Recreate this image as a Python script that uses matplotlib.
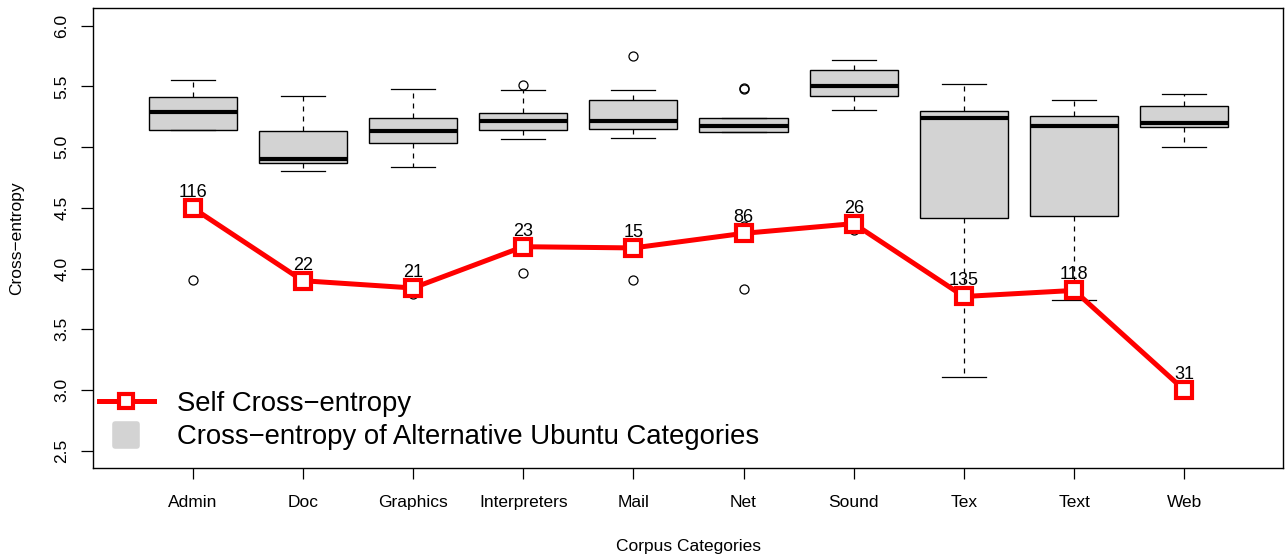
import matplotlib.pyplot as plt
from matplotlib.lines import Line2D
from matplotlib.markers import MarkerStyle

plt.rcParams['font.family'] = ['Liberation Sans', 'DejaVu Sans']

categories = ['Admin', 'Doc', 'Graphics', 'Interpreters', 'Mail',
              'Net', 'Sound', 'Tex', 'Text', 'Web']

# self cross-entropy per category and number of packages
self_ce = [4.50, 3.90, 3.84, 4.18, 4.17, 4.29, 4.37, 3.77, 3.82, 3.00]
counts = [116, 22, 21, 23, 15, 86, 26, 135, 118, 31]

# box stats of cross-entropy against the other categories
whis_lo = [5.14, 4.80, 4.835, 5.066, 5.074, 5.124, 5.303, 3.104, 3.741, 4.998]
q1 = [5.14, 4.866, 5.03, 5.143, 5.146, 5.124, 5.418, 4.415, 4.431, 5.165]
med = [5.291, 4.899, 5.129, 5.217, 5.212, 5.17, 5.503, 5.237, 5.176, 5.195]
q3 = [5.415, 5.134, 5.239, 5.283, 5.385, 5.239, 5.637, 5.299, 5.256, 5.34]
whis_hi = [5.552, 5.423, 5.478, 5.47, 5.467, 5.239, 5.715, 5.522, 5.387, 5.437]
fliers = [[4.475, 3.909], [], [3.787], [5.509, 3.961], [5.753, 3.904],
          [5.484, 5.478, 4.35, 3.835], [4.316], [], [], []]

stats = []
for i in range(len(categories)):
    stats.append(dict(med=med[i], q1=q1[i], q3=q3[i], whislo=whis_lo[i],
                      whishi=whis_hi[i], fliers=fliers[i], label=categories[i]))

fig = plt.figure(figsize=(12.86, 5.56), dpi=100)
ax = fig.add_axes([0.0727, 0.1577, 0.9253, 0.8273])

pos = list(range(1, len(categories) + 1))
ax.bxp(stats, positions=pos, widths=0.8, capwidths=0.4, patch_artist=True,
       boxprops=dict(facecolor='lightgray', edgecolor='black', linewidth=1.0),
       medianprops=dict(color='black', linewidth=3),
       whiskerprops=dict(color='black', linewidth=0.9, linestyle=(0, (4, 4))),
       capprops=dict(color='black', linewidth=0.9),
       flierprops=dict(marker='o', markersize=6.5, markerfacecolor='none',
                       markeredgecolor='black', markeredgewidth=0.9))

ax.plot(pos, self_ce, color='red', linewidth=3.6, marker='s', markersize=11.5,
        markerfacecolor='white', markeredgecolor='red', markeredgewidth=3, zorder=5)
for x, y, n in zip(pos, self_ce, counts):
    ax.annotate(str(n), (x, y), xytext=(0, 8), textcoords='offset points',
                ha='center', va='baseline', fontsize=13, zorder=6)

ax.set_xlim(0.1, 10.9)
ax.set_ylim(2.355, 6.143)
ax.set_xticks(pos)
ax.set_xticklabels(categories, fontsize=12.5)
yt = [2.5, 3.0, 3.5, 4.0, 4.5, 5.0, 5.5, 6.0]
ax.set_yticks(yt)
ax.set_yticklabels(['%.1f' % v for v in yt], fontsize=12.5, rotation=90, va='center')
ax.tick_params(axis='x', length=8, width=0.9, pad=11)
ax.tick_params(axis='y', length=8.5, width=0.9, pad=9)
for s in ax.spines.values():
    s.set_linewidth(1.0)

ax.set_xlabel('Corpus Categories', fontsize=12.5, va='center')
ax.xaxis.set_label_coords(0.5, -0.17)
ax.set_ylabel('Cross\u2212entropy', fontsize=12.5, va='center')
ax.yaxis.set_label_coords(-0.0643, 0.5)

h1 = Line2D([], [], color='red', linewidth=3.6, marker='s', markersize=10,
            markerfacecolor='white', markeredgecolor='red', markeredgewidth=3)
h2 = Line2D([], [], linestyle='none', marker=MarkerStyle('s', joinstyle='round'),
            markersize=15.5, markerfacecolor='lightgray', markeredgecolor='lightgray',
            markeredgewidth=4)
ax.legend([h1, h2], ['Self Cross\u2212entropy',
                     'Cross\u2212entropy of Alternative Ubuntu Categories'],
          loc='lower left', bbox_to_anchor=(0.0046, 0.039), frameon=False,
          fontsize=19.8, handlelength=2.0, handletextpad=0.85, labelspacing=0.28,
          borderpad=0, borderaxespad=0)

fig.savefig('out.png', dpi=100)
